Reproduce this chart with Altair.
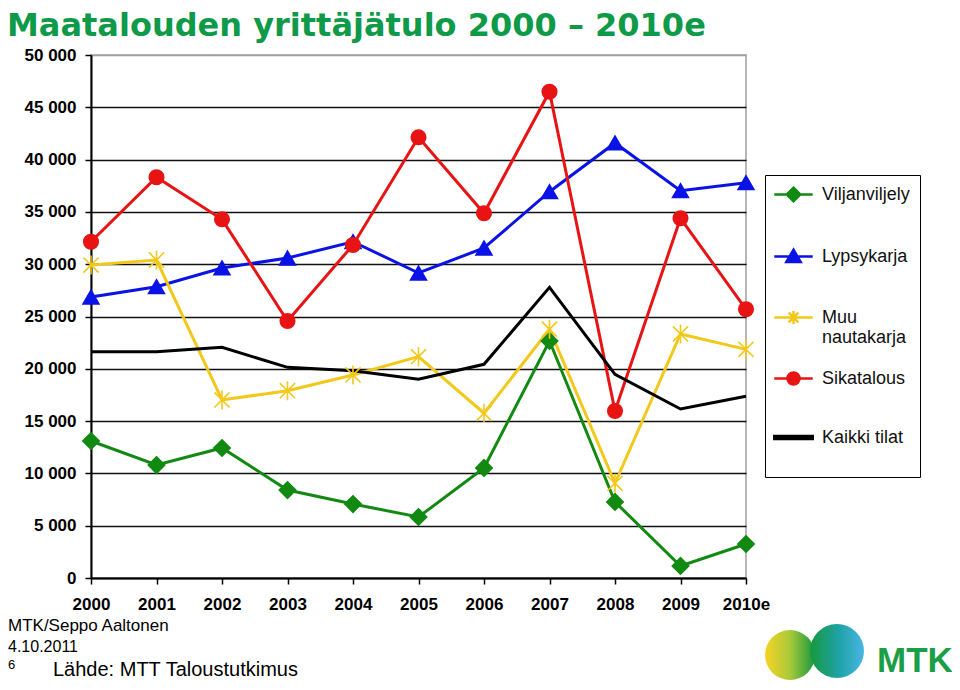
import altair as alt
import pandas as pd

years = ["2000", "2001", "2002", "2003", "2004", "2005", "2006", "2007", "2008", "2009", "2010e"]
series_names = ["Viljanviljely", "Lypsykarja", "Muu nautakarja", "Sikatalous", "Kaikki tilat"]
viljanviljely = [13100, 10800, 12430, 8410, 7070, 5830, 10520, 22660, 7270, 1150, 3250]
lypsykarja = [26860, 27850, 29640, 30590, 32150, 29160, 31550, 36930, 41590, 37030, 37790]
muu_nautakarja = [29920, 30400, 17020, 17910, 19410, 21160, 15750, 23780, 9050, 23330, 21860]
sikatalous = [32150, 38310, 34290, 24570, 31840, 42130, 34870, 46490, 15970, 34390, 25690]
kaikki_tilat = [21640, 21640, 22050, 20140, 19820, 19000, 20430, 27790, 19470, 16160, 17370]
y_ticks = [0, 5000, 10000, 15000, 20000, 25000, 30000, 35000, 40000, 45000, 50000]

colors = ["#128a12", "#0a12e6", "#f2c81a", "#e81414", "#000000"]
title_text = "Maatalouden yrittäjätulo 2000 – 2010e"
footer_lines = ["MTK/Seppo Aaltonen", "4.10.2011", "6"]
source_text = "Lähde: MTT Taloustutkimus"

rows = []
for name, vals in zip(series_names, [viljanviljely, lypsykarja, muu_nautakarja, sikatalous, kaikki_tilat]):
    for yr, v in zip(years, vals):
        rows.append({"vuosi": yr, "sarja": name, "arvo": v})
df = pd.DataFrame(rows)

x_enc = alt.X("vuosi:N", sort=years, scale=alt.Scale(type="point", padding=0),
              axis=alt.Axis(title=None, labelAngle=0, grid=False, domainColor="black", domainWidth=2,
                            tickColor="black", tickSize=6, tickWidth=1.5, labelPadding=12,
                            labelFont="Liberation Sans", labelFontSize=17, labelFontWeight="bold",
                            labelColor="black"))
y_enc = alt.Y("arvo:Q", scale=alt.Scale(domain=[0, 50000], nice=False),
              axis=alt.Axis(title=None, values=y_ticks, domainColor="black", domainWidth=2,
                            tickColor="black", tickSize=6, tickWidth=1.5, labelPadding=9,
                            labelFont="Liberation Sans", labelFontSize=17, labelFontWeight="bold",
                            labelColor="black",
                            labelExpr="replace(format(datum.value, ','), ',', ' ')",
                            gridColor={"condition": {"test": "datum.value === 50000", "value": "#a0a0a0"},
                                       "value": "#111111"},
                            gridWidth=1.6))

lines = alt.Chart(df).mark_line().encode(
    x=x_enc, y=y_enc,
    color=alt.Color("sarja:N", scale=alt.Scale(domain=series_names, range=colors), legend=None),
    strokeWidth=alt.StrokeWidth("sarja:N", scale=alt.Scale(domain=series_names, range=[3, 3, 3, 3, 4.5]),
                                legend=None),
    detail="sarja:N",
)

marker_names = series_names[:4]
asterisk = "M-1,-1L1,1M-1,1L1,-1M0,-1.25L0,1.25"
points = alt.Chart(df).transform_filter(
    alt.FieldOneOfPredicate(field="sarja", oneOf=marker_names)
).mark_point(opacity=1, strokeWidth=1.6).encode(
    x=alt.X("vuosi:N", sort=years),
    y="arvo:Q",
    shape=alt.Shape("sarja:N", scale=alt.Scale(domain=marker_names,
                                               range=["diamond", "triangle-up", asterisk, "circle"]), legend=None),
    fill=alt.Fill("sarja:N", scale=alt.Scale(domain=marker_names,
                                             range=[colors[0], colors[1], "transparent", colors[3]]), legend=None),
    stroke=alt.Stroke("sarja:N", scale=alt.Scale(domain=marker_names, range=colors[:4]), legend=None),
    size=alt.Size("sarja:N", scale=alt.Scale(domain=marker_names, range=[270, 210, 210, 190]), legend=None),
)

legend_shapes = [
    "M-2.4,0H2.4M0,-0.85L0.85,0L0,0.85L-0.85,0Z",
    "M-2.4,0H2.4M0,-0.85L0.9,0.7L-0.9,0.7Z",
    "M-2.4,0H2.4M-0.6,-0.6L0.6,0.6M-0.6,0.6L0.6,-0.6M0,-0.8L0,0.8",
    "M-2.4,0H2.4M-0.75,0A0.75,0.75,0,1,1,0.75,0A0.75,0.75,0,1,1,-0.75,0Z",
    "M-2.4,-0.18H2.4V0.18H-2.4Z",
]
legend_title = "Sarja"
leg = alt.Legend(title=None, orient="none", legendX=674, legendY=120,
                 strokeColor="black", fillColor="white", padding=10,
                 labelFont="Liberation Sans", labelFontSize=18, labelColor="#111111",
                 symbolSize=256, symbolStrokeWidth=2.5, symbolOffset=9, labelOffset=19,
                 symbolOpacity=1, rowPadding=20, labelLimit=220,
                 labelExpr="datum.label == 'Muu nautakarja' ? ['Muu', 'nautakarja'] : [datum.label + '\\u00a0\\u00a0', '']",
                 labelBaseline="middle")
legend_layer = alt.Chart(df).mark_point(opacity=0).encode(
    x=alt.X("vuosi:N", sort=years),
    y="arvo:Q",
    shape=alt.Shape("sarja:N", title=legend_title, scale=alt.Scale(domain=series_names, range=legend_shapes), legend=leg),
    fill=alt.Fill("sarja:N", title=legend_title, scale=alt.Scale(domain=series_names,
                  range=[colors[0], colors[1], "transparent", colors[3], colors[4]]), legend=leg),
    stroke=alt.Stroke("sarja:N", title=legend_title, scale=alt.Scale(domain=series_names, range=colors), legend=leg),
)

title_layer = alt.Chart(pd.DataFrame({"t": [title_text]})).mark_text(
    align="left", baseline="alphabetic", font="DejaVu Sans", fontSize=32,
    fontWeight="bold", color="#0e9a48"
).encode(text="t:N", x=alt.value(-84), y=alt.value(-19))

footer_layer = alt.Chart(pd.DataFrame({"t": [footer_lines[0]]})).mark_text(
    align="left", baseline="alphabetic", font="Liberation Sans", fontSize=17, color="black"
).encode(text="t:N", x=alt.value(-83), y=alt.value(576))
footer_layer2 = alt.Chart(pd.DataFrame({"t": [footer_lines[1]]})).mark_text(
    align="left", baseline="alphabetic", font="Liberation Sans", fontSize=16, color="black"
).encode(text="t:N", x=alt.value(-83), y=alt.value(597))
footer_layer3 = alt.Chart(pd.DataFrame({"t": [footer_lines[2]]})).mark_text(
    align="left", baseline="alphabetic", font="Liberation Sans", fontSize=13, color="black"
).encode(text="t:N", x=alt.value(-83), y=alt.value(614))
source_layer = alt.Chart(pd.DataFrame({"t": [source_text]})).mark_text(
    align="left", baseline="alphabetic", font="Liberation Sans", fontSize=20, color="black"
).encode(text="t:N", x=alt.value(-38), y=alt.value(621))

logo_text = alt.Chart(pd.DataFrame({"t": ["MTK"]})).mark_text(
    align="left", baseline="alphabetic", font="Liberation Sans", fontSize=35, fontWeight="bold", color="#1a9e46"
).encode(text="t:N", x=alt.value(786), y=alt.value(617))

grad_left = alt.Gradient(gradient="linear", x1=0, x2=1, y1=0, y2=0,
                         stops=[alt.GradientStop(color="#f8d323", offset=0),
                                alt.GradientStop(color="#a9c93a", offset=0.5),
                                alt.GradientStop(color="#17983e", offset=1)])
grad_right = alt.Gradient(gradient="linear", x1=0, x2=1, y1=0, y2=0,
                          stops=[alt.GradientStop(color="#17983e", offset=0),
                                 alt.GradientStop(color="#1fa3a8", offset=0.55),
                                 alt.GradientStop(color="#49b6e6", offset=1)])
logo_left = alt.Chart(pd.DataFrame({"t": [1]})).mark_arc(
    theta=0, theta2=6.2832, radius=25, fill=grad_left
).encode(x=alt.value(699), y=alt.value(600))
logo_right = alt.Chart(pd.DataFrame({"t": [1]})).mark_arc(
    theta=0, theta2=6.2832, radius=27, fill=grad_right
).encode(x=alt.value(746), y=alt.value(596))

chart = alt.layer(
    lines, points, legend_layer, title_layer, footer_layer, footer_layer2, footer_layer3,
    source_layer, logo_left, logo_right, logo_text
).resolve_scale(
    shape="independent", fill="independent", stroke="independent"
).properties(
    width=655, height=523,
    autosize=alt.AutoSizeParams(type="none"),
    padding={"left": 83, "top": 47, "right": 206, "bottom": 104},
    background="white",
).configure_view(
    stroke="#a0a0a0", strokeWidth=1.5
)

chart.save("out.html", embed_options={"renderer": "svg", "actions": False})
